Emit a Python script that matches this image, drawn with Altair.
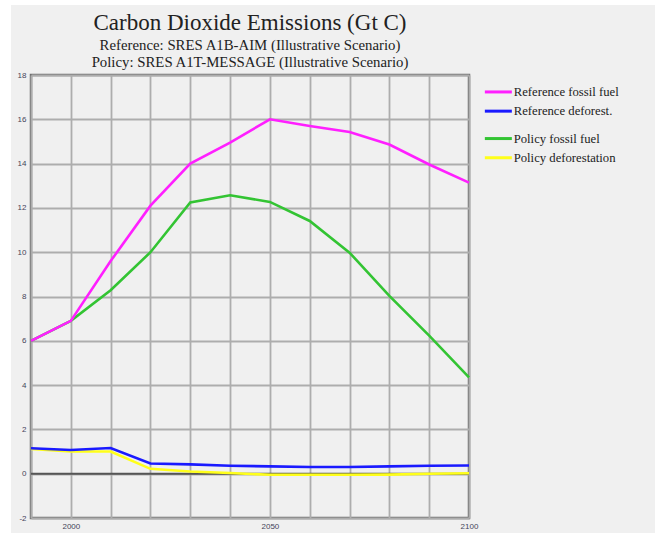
import altair as alt
import pandas as pd

# Emissions (Gt C) by year
years = [1990, 2000, 2010, 2020, 2030, 2040, 2050, 2060, 2070, 2080, 2090, 2100]
ref_fossil = [6.0, 6.9, 9.6, 12.1, 14.0, 14.95, 16.0, 15.7, 15.43, 14.86, 13.96, 13.14]
ref_deforest = [1.15, 1.07, 1.16, 0.46, 0.42, 0.36, 0.33, 0.30, 0.30, 0.33, 0.36, 0.37]
pol_fossil = [6.0, 6.9, 8.28, 10.0, 12.25, 12.57, 12.27, 11.41, 9.98, 8.03, 6.23, 4.35]
pol_deforest = [1.12, 1.0, 1.0, 0.22, 0.1, 0.03, -0.05, -0.05, -0.05, -0.04, 0.0, 0.02]

ref_names = ["Reference fossil fuel", "Reference deforest."]
ref_colors = ["#ff1fff", "#1a1aff"]
pol_names = ["Policy fossil fuel", "Policy deforestation"]
pol_colors = ["#33c433", "#ffff1a"]

x_ticks = list(range(1990, 2101, 10))
y_ticks = list(range(-2, 19))

SERIF = "Liberation Serif"


def long_table(names, series):
    rows = []
    for name, vals in zip(names, series):
        for yr, v in zip(years, vals):
            rows.append({"year": yr, "value": v, "series": name})
    return pd.DataFrame(rows)


ref_df = long_table(ref_names, [ref_fossil, ref_deforest])
pol_df = long_table(pol_names, [pol_fossil, pol_deforest])

x_enc = alt.X(
    "year:Q",
    scale=alt.Scale(domain=[1990, 2100], nice=False, zero=False),
    axis=alt.Axis(
        values=x_ticks,
        labelExpr="datum.value % 50 == 0 ? datum.value : ''",
        title=None,
        domain=False,
        ticks=False,
        labelFlush=False,
        labelFontSize=8,
        labelColor="#44445a",
        labelPadding=4,
        gridColor="#adadad",
        gridWidth=1.8,
    ),
)
y_enc = alt.Y(
    "value:Q",
    scale=alt.Scale(domain=[-2, 18], nice=False, zero=False),
    axis=alt.Axis(
        values=y_ticks,
        labelExpr="datum.value % 2 == 0 ? datum.value : ''",
        title=None,
        domain=False,
        ticks=False,
        labelFontSize=8,
        labelColor="#44445a",
        labelPadding=5,
        gridColor="#adadad",
        gridWidth=1.8,
    ),
)


def legend(y_off):
    return alt.Legend(
        orient="none",
        legendX=452,
        legendY=y_off,
        title=None,
        direction="vertical",
        symbolType="M-1,0H5",
        symbolSize=81,
        symbolStrokeWidth=3,
        labelFont=SERIF,
        labelFontSize=12.7,
        labelColor="#222222",
        labelOffset=18,
        rowPadding=5.2,
        padding=0,
    )


def strip(x0, x1, y0, y1):
    # white page margin outside the gray panel
    return alt.Chart(pd.DataFrame({"k": [0]})).mark_rect(color="white").encode(
        x=alt.value(x0), x2=alt.value(x1), y=alt.value(y0), y2=alt.value(y1)
    )


zero_line = alt.Chart(pd.DataFrame({"value": [0]})).mark_rule(
    color="#555555", strokeWidth=2
).encode(y=alt.Y("value:Q"))

policy = alt.Chart(pol_df).mark_line(strokeWidth=2.6).encode(
    x=x_enc, y=y_enc,
    color=alt.Color("series:N", scale=alt.Scale(domain=pol_names, range=pol_colors),
                    legend=legend(57.2)),
)

reference = alt.Chart(ref_df).mark_line(strokeWidth=2.6).encode(
    x=x_enc, y=y_enc,
    color=alt.Color("series:N", scale=alt.Scale(domain=ref_names, range=ref_colors),
                    legend=legend(10.6)),
)

# the title sits above the outer bounds (top margin strip at -75), so pull it down
chart = alt.layer(
    zero_line, policy, reference,
    strip(-31, -20, -75, 458), strip(-31, 631, -75, -70), strip(624, 631, -75, 458),
).resolve_scale(
    color="independent"
).properties(
    width=438,
    height=443,
    padding={"left": 31, "top": 75, "right": 193, "bottom": 15},
    autosize=alt.AutoSizeParams(type="none"),
    background="#f0f0f0",
    title=alt.TitleParams(
        text="Carbon Dioxide Emissions (Gt C)",
        subtitle=["Reference: SRES A1B-AIM (Illustrative Scenario)",
                  "Policy: SRES A1T-MESSAGE (Illustrative Scenario)"],
        font=SERIF,
        fontSize=23,
        fontWeight="normal",
        color="#222222",
        subtitleFont=SERIF,
        subtitleFontSize=14.8,
        subtitleColor="#222222",
        subtitleLineHeight=17.5,
        subtitlePadding=3,
        anchor="middle",
        frame="group",
        offset=-70,
    ),
).configure_view(
    fill="#f0f0f0", stroke="#6e6e6e", strokeWidth=2.5
)

chart.save("out.html", embed_options={"renderer": "svg", "actions": False})
